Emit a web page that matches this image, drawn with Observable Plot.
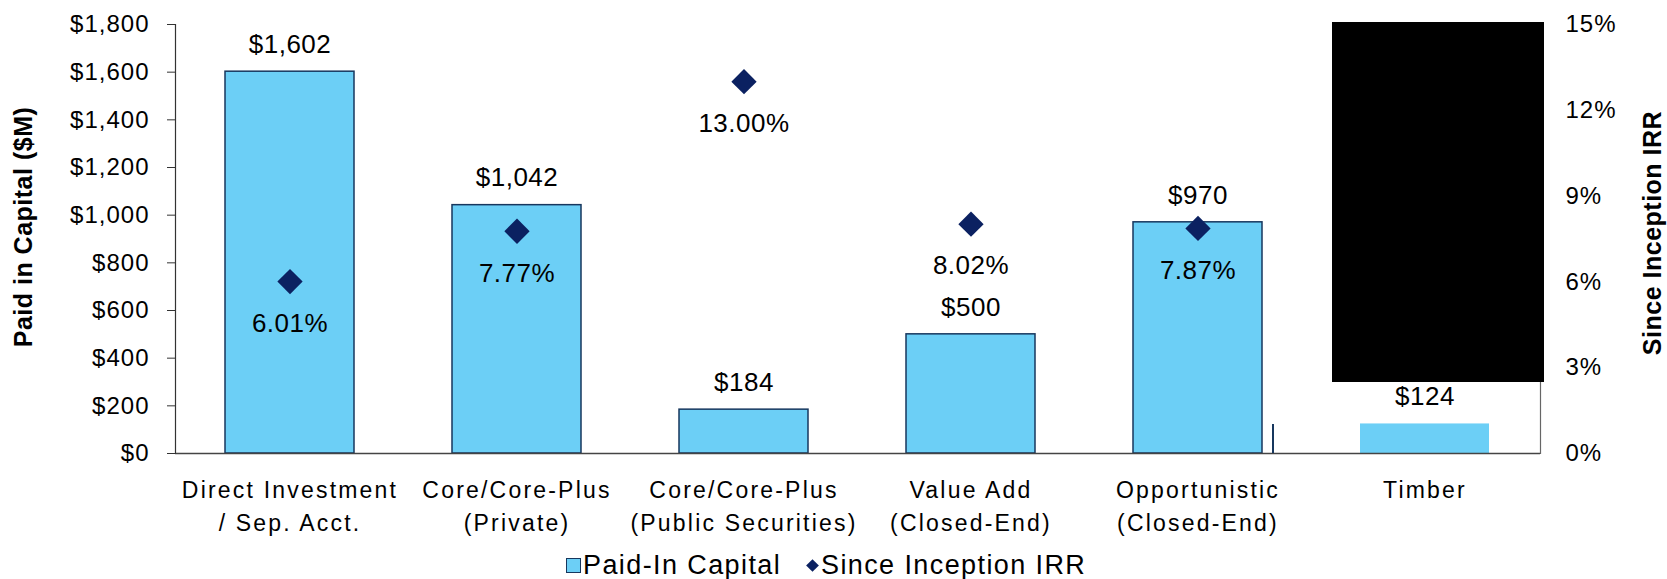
<!DOCTYPE html>
<html>
<head>
<meta charset="utf-8">
<script src="https://cdn.jsdelivr.net/npm/d3@7"></script>
<script src="https://cdn.jsdelivr.net/npm/@observablehq/plot@0.6"></script>
<style>
  html, body { margin: 0; padding: 0; background: #fff; }
  #wrap { position: relative; width: 1667px; height: 579px; overflow: hidden; font-family: "Liberation Sans", Arial, sans-serif; }
  #wrap svg g[aria-label="x-axis tick label"] text { letter-spacing: 2.2px; }
  #wrap svg g[aria-label="y-axis tick label"] text { letter-spacing: 1px; }
  #wrap svg g[aria-label="text"] text { letter-spacing: 0.5px; }
  #legend { position: absolute; left: 0; top: 552px; height: 27px; width: 1667px; font-size: 27px; line-height: 27px; letter-spacing: 1.4px; color: #000; }
  .lg-item { position: absolute; top: 0; display: flex; align-items: center; height: 27px; }
  .lg-sq { width: 13px; height: 13px; background: #6CCFF6; border: 1.5px solid #17375E; margin-right: 2px; }
  .lg-dm { width: 9px; height: 9px; background: #0B2161; transform: rotate(45deg); margin: 0 4px 0 2px; }
  #redact { position: absolute; left: 1332px; top: 22px; width: 212px; height: 360px; background: #000; }
  #stub { position: absolute; left: 1272px; top: 424px; width: 2px; height: 29px; background: #17375E; }
</style>
</head>
<body>
<div id="wrap"></div>
<script>
// ---- data ----
const categories = [
  "Direct Investment\n/ Sep. Acct.",
  "Core/Core-Plus\n(Private)",
  "Core/Core-Plus\n(Public Securities)",
  "Value Add\n(Closed-End)",
  "Opportunistic\n(Closed-End)",
  "Timber"
];
const paidInCapital = [1602, 1042, 184, 500, 970, 124];
const sinceInceptionIRR = [6.01, 7.77, 13.00, 8.02, 7.87, null];
const outlined = [true, true, true, true, true, false];
const leftTicks = [0, 200, 400, 600, 800, 1000, 1200, 1400, 1600, 1800];
const rightTicks = [0, 3, 6, 9, 12, 15];

// ---- build ----
const yMax = leftTicks[leftTicks.length - 1];
const irrMax = rightTicks[rightTicks.length - 1];
const k = yMax / irrMax; // maps IRR % onto the capital axis

const rows = categories.map((c, i) => ({
  cat: c, paid: paidInCapital[i], irr: sinceInceptionIRR[i], outline: outlined[i]
}));
const irrRows = rows.filter(d => d.irr != null);
const fmtComma = d3.format(",");

const chart = Plot.plot({
  width: 1667,
  height: 538,
  marginTop: 24,
  marginBottom: 85,
  marginLeft: 175,
  marginRight: 127,
  style: { fontFamily: "'Liberation Sans', Arial, sans-serif", color: "#000", background: "#fff", overflow: "visible" },
  x: { domain: categories, paddingInner: 0.43, paddingOuter: 0.215, axis: null },
  y: { domain: [0, yMax], axis: null },
  marks: [
    Plot.barY(rows, { filter: d => d.outline, x: "cat", y: "paid", fill: "#6CCFF6", stroke: "#17375E", strokeWidth: 1.5 }),
    Plot.barY(rows, { filter: d => !d.outline, x: "cat", y: "paid", fill: "#6CCFF6" }),
    Plot.ruleY([0], { stroke: "#444", strokeWidth: 1.5 }),
    Plot.frame({ anchor: "left", stroke: "#333", strokeWidth: 1.2 }),
    Plot.frame({ anchor: "right", stroke: "#666", strokeWidth: 1.2 }),
    Plot.axisY({ anchor: "left", ticks: leftTicks, tickFormat: d => "$" + fmtComma(d), tickSize: 8, tickPadding: 18, fontSize: 24, label: null, stroke: "#333" }),
    Plot.axisY({ anchor: "right", ticks: rightTicks.map(v => v * k), tickFormat: d => Math.round(d / k) + "%", tickSize: 0, tickPadding: 25, fontSize: 24, label: null }),
    Plot.axisX({ anchor: "bottom", tickSize: 0, tickPadding: 21, fontSize: 23, lineHeight: 1.43, label: null }),
    Plot.text(rows, { x: "cat", y: "paid", text: d => "$" + fmtComma(d.paid), dy: -27, fontSize: 26, fill: "#000" }),
    Plot.dot(irrRows, { x: "cat", y: d => d.irr * k, symbol: "diamond2", r: 11.4, fill: "#0B2161", stroke: null }),
    Plot.text(irrRows, { x: "cat", y: d => d.irr * k, text: d => d.irr.toFixed(2) + "%", dy: 42, fontSize: 26, fill: "#000" }),
    Plot.text(["Paid in Capital ($M)"], { frameAnchor: "left", textAnchor: "middle", dx: -152, dy: -12, rotate: -90, fontSize: 25, fontWeight: "bold", fill: "#000" }),
    Plot.text(["Since Inception IRR"], { frameAnchor: "right", textAnchor: "middle", dx: 112, dy: -6, rotate: -90, fontSize: 25, fontWeight: "bold", fill: "#000" })
  ]
});

const wrap = document.getElementById("wrap");
wrap.appendChild(chart);

const legend = document.createElement("div");
legend.id = "legend";
legend.innerHTML =
  '<div class="lg-item" style="left:566px"><span class="lg-sq"></span><span>Paid-In Capital</span></div>' +
  '<div class="lg-item" style="left:806px"><span class="lg-dm"></span><span>Since Inception IRR</span></div>';
wrap.appendChild(legend);

const redact = document.createElement("div"); redact.id = "redact"; wrap.appendChild(redact);
const stub = document.createElement("div"); stub.id = "stub"; wrap.appendChild(stub);
</script>
</body>
</html>
